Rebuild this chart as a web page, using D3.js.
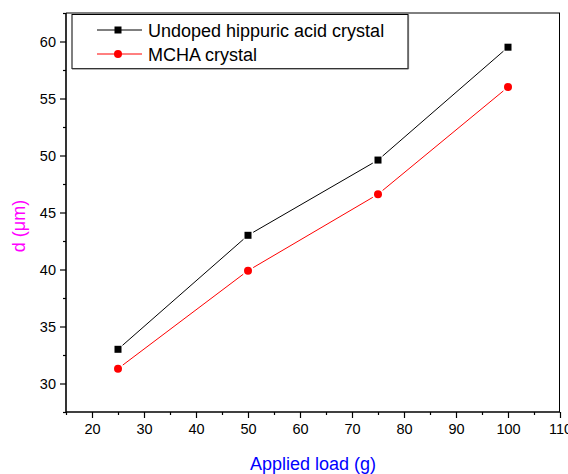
<!DOCTYPE html>
<html><head><meta charset="utf-8">
<script src="https://cdn.jsdelivr.net/npm/d3@7"></script>
<style>body{margin:0;background:#fff}svg{display:block}text{font-family:"Liberation Sans",Arial,sans-serif}</style>
</head><body>
<script>
const loads = [25, 50, 75, 100];
const undoped = [33.0, 43.0, 49.6, 59.5];
const mcha = [31.3, 39.9, 46.6, 56.0];
const seriesNames = ["Undoped hippuric acid crystal", "MCHA crystal"];
const xTicks = [20, 30, 40, 50, 60, 70, 80, 90, 100, 110];
const yTicks = [30, 35, 40, 45, 50, 55, 60];

const W = 568, H = 474;
const L = 66, R = 560, T = 13, B = 412;
const svg = d3.select("body").append("svg").attr("width", W).attr("height", H);
const x = d3.scaleLinear().domain([15, 110]).range([L, R]);
const y = d3.scaleLinear().domain([27.5, 62.5]).range([B, T]);

// frame
svg.append("line").attr("x1", L).attr("x2", R).attr("y1", T).attr("y2", T).attr("stroke", "#000").attr("stroke-width", 1);
svg.append("line").attr("x1", R - 0.5).attr("x2", R - 0.5).attr("y1", T).attr("y2", B).attr("stroke", "#000").attr("stroke-width", 1);

// axes
const xMinor = d3.range(15, 111, 5).filter(v => v % 10 !== 0);
const yMinor = d3.range(27.5, 63, 5);
const gx = svg.append("g").attr("transform", `translate(0,${B})`)
  .call(d3.axisBottom(x).tickValues(xTicks).tickSize(6).tickPadding(6).tickFormat(d3.format("d")));
svg.append("g").attr("transform", `translate(0,${B})`)
  .call(d3.axisBottom(x).tickValues(xMinor).tickSize(3).tickFormat("")).select(".domain").remove();
const gy = svg.append("g").attr("transform", `translate(${L},0)`)
  .call(d3.axisLeft(y).tickValues(yTicks).tickSize(6).tickPadding(4).tickFormat(d3.format("d")));
svg.append("g").attr("transform", `translate(${L},0)`)
  .call(d3.axisLeft(y).tickValues(yMinor).tickSize(3).tickFormat("")).select(".domain").remove();
svg.selectAll(".domain").attr("stroke-width", 1.6);
gx.select(".domain").attr("d", `M${L},0H${R}`);
gy.select(".domain").attr("d", `M0,${T}V${B}`);
svg.selectAll(".tick line").attr("stroke-width", 1.2);
svg.selectAll(".tick text").attr("font-size", 14.5).attr("fill", "#000");

// labels
svg.append("text").attr("x", 313).attr("y", 470).attr("text-anchor", "middle")
  .attr("font-size", 18).attr("fill", "#0000ff").text("Applied load (g)");
svg.append("text").attr("transform", "translate(25,226) rotate(-90)").attr("text-anchor", "middle")
  .attr("font-size", 18).attr("fill", "#ff00ff").text("d (\u03bcm)");

// series
function gapLine(g, xs, ys, color, gap) {
  for (let i = 0; i < xs.length - 1; i++) {
    const x1 = x(xs[i]), y1 = y(ys[i]), x2 = x(xs[i+1]), y2 = y(ys[i+1]);
    const dx = x2 - x1, dy = y2 - y1, len = Math.hypot(dx, dy);
    const ux = dx / len, uy = dy / len;
    g.append("line").attr("x1", x1 + ux*gap).attr("y1", y1 + uy*gap)
      .attr("x2", x2 - ux*gap).attr("y2", y2 - uy*gap)
      .attr("stroke", color).attr("stroke-width", 1);
  }
}
const g1 = svg.append("g");
gapLine(g1, loads, undoped, "#000", 6);
g1.selectAll("rect.m").data(loads).join("rect")
  .attr("x", (d,i) => x(d) - 3.5).attr("y", (d,i) => y(undoped[i]) - 3.5)
  .attr("width", 7).attr("height", 7).attr("fill", "#000");
const g2 = svg.append("g");
gapLine(g2, loads, mcha, "#ff0000", 6);
g2.selectAll("circle").data(loads).join("circle")
  .attr("cx", d => x(d)).attr("cy", (d,i) => y(mcha[i])).attr("r", 4).attr("fill", "#ff0000");

// legend
const lg = svg.append("g");
lg.append("rect").attr("x", 72).attr("y", 14.5).attr("width", 336).attr("height", 54)
  .attr("fill", "#fff").attr("stroke", "#000").attr("stroke-width", 1);
lg.append("line").attr("x1", 72).attr("x2", 408.5).attr("y1", 69).attr("y2", 69).attr("stroke", "#666").attr("stroke-width", 1.2);
lg.append("line").attr("x1", 408.5).attr("x2", 408.5).attr("y1", 14.5).attr("y2", 69).attr("stroke", "#666").attr("stroke-width", 1.2);
const rows = [{c:"#000", m:"sq", yy:30}, {c:"#ff0000", m:"ci", yy:54}];
rows.forEach((r, i) => {
  lg.append("line").attr("x1", 97).attr("x2", 142).attr("y1", r.yy).attr("y2", r.yy).attr("stroke", r.c).attr("stroke-width", 1);
  if (r.m === "sq") lg.append("rect").attr("x", 114.5).attr("y", r.yy - 3.5).attr("width", 7).attr("height", 7).attr("fill", r.c);
  else lg.append("circle").attr("cx", 118).attr("cy", r.yy).attr("r", 4).attr("fill", r.c);
  lg.append("text").attr("x", 148).attr("y", r.yy + 6.5).attr("font-size", 18).attr("fill", "#000").text(seriesNames[i]);
});
</script>
</body></html>
